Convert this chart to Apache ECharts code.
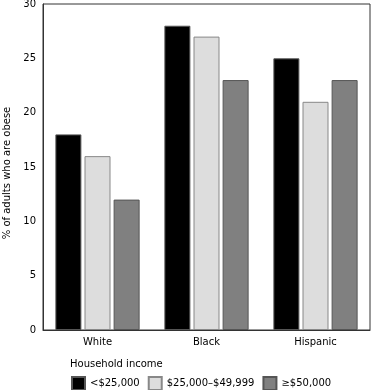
<!DOCTYPE html>
<html><head><meta charset="utf-8">
<script src="https://cdn.jsdelivr.net/npm/echarts@6/dist/echarts.min.js"></script>
<style>html,body{margin:0;padding:0;background:#fff}#c{width:372px;height:390px}</style>
</head><body><div id="c"></div>
<script>
const categories = ['White', 'Black', 'Hispanic'];
const seriesNames = ['<$25,000', '$25,000–$49,999', '≥$50,000'];
const low = [18, 28, 25];
const mid = [16, 27, 21];
const high = [12, 23, 23];
const yTicks = [0, 5, 10, 15, 20, 25, 30];

const font = 'DejaVu Sans, Verdana, sans-serif';
const styles = [
  {color: '#000000', borderColor: '#555555'},
  {color: '#dddddd', borderColor: '#888888'},
  {color: '#808080', borderColor: '#555555'}
];
const values = [low, mid, high];
const chart = echarts.init(document.getElementById('c'));
chart.setOption({
  animation: false,
  textStyle: {fontFamily: font},
  title: {text: 'Household income', left: 70, top: 359, padding: 0,
    textStyle: {fontSize: 10, fontWeight: 'normal', color: '#000', fontFamily: font}},
  legend: {left: 71, top: 376, padding: 0, icon: 'rect', itemWidth: 13, itemHeight: 13, itemGap: 8,
    textStyle: {fontSize: 10, color: '#000', fontFamily: font},
    data: seriesNames},
  grid: {left: 43, right: 2, top: 4, bottom: 60, show: true, borderColor: '#333', borderWidth: 1,
    outerBoundsMode: 'none', containLabel: false},
  xAxis: {type: 'category', data: categories,
    axisLine: {lineStyle: {color: '#333'}}, axisTick: {show: false},
    axisLabel: {fontSize: 10, color: '#000', margin: 7, fontFamily: font}},
  yAxis: {type: 'value', min: yTicks[0], max: yTicks[yTicks.length - 1], interval: 5,
    name: '% of adults who are obese', nameLocation: 'middle', nameGap: 30,
    nameTextStyle: {fontSize: 10, color: '#000', fontFamily: font, padding: [0, 12, 0, 0]},
    axisLine: {show: true, lineStyle: {color: '#333'}}, axisTick: {show: false},
    splitLine: {show: false},
    axisLabel: {fontSize: 10, color: '#000', margin: 7, fontFamily: font}},
  series: seriesNames.map((n, i) => ({
    name: n, type: 'bar', data: values[i], barWidth: 26, barGap: '12%',
    itemStyle: {color: styles[i].color, borderColor: styles[i].borderColor, borderWidth: 1}
  }))
});
</script></body></html>
